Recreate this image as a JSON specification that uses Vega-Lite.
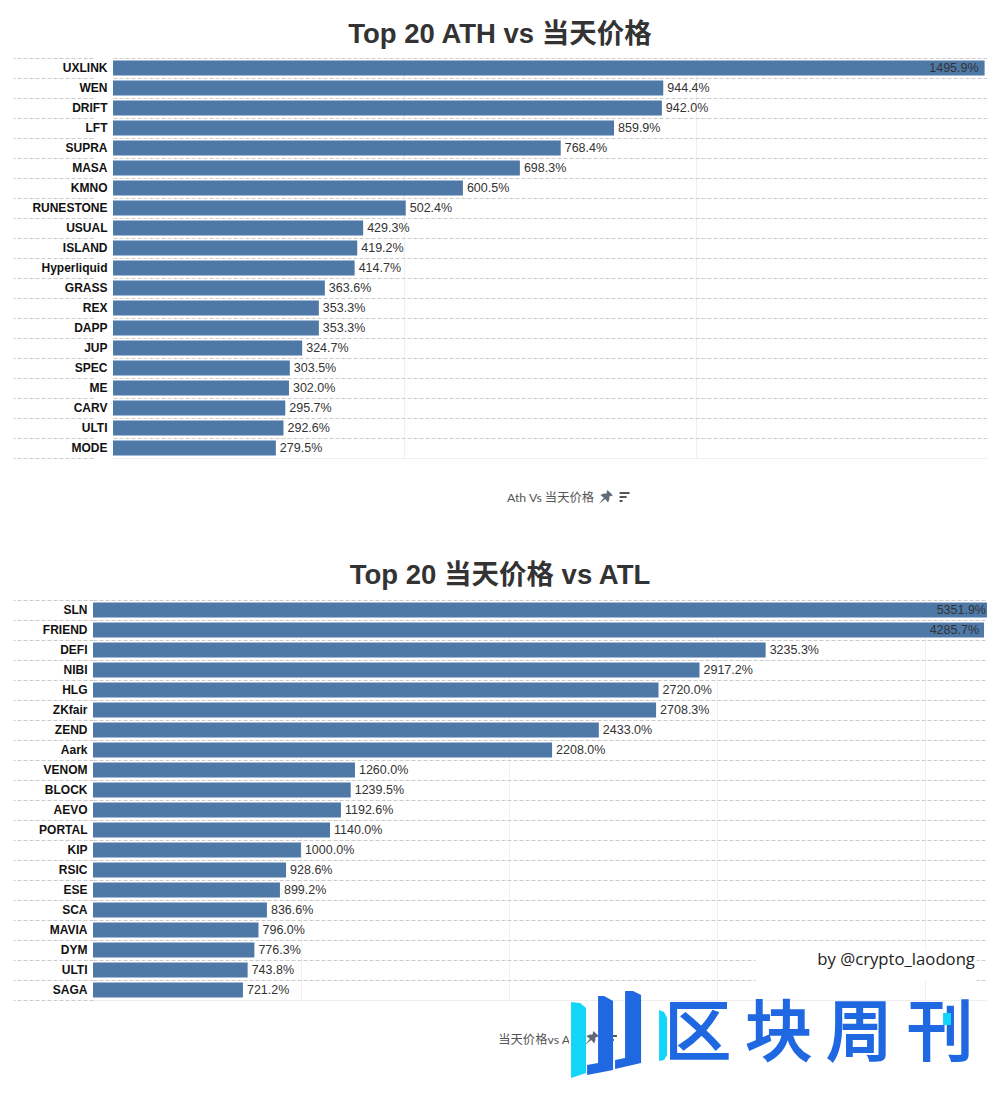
{
"$schema":"https://vega.github.io/schema/vega-lite/v6.json",
"background":"#ffffff",
"padding":{"left":12,"top":20,"right":0,"bottom":0},
"autosize":{"type":"pad"},
"config":{"view":{"stroke":null},
"axisY":{"tickBand":"extent","grid":true,"gridColor":"#cccccc","gridDash":[4,2],"tickColor":"#cccccc","tickDash":[4,2],"domain":false,"labelFontWeight":"bold","labelFontSize":12,"labelFont":"Liberation Sans","labelColor":"#111111","labelOffset":-1},
"axisX":{"labels":false,"ticks":false,"domain":true,"domainColor":"#eeeeee","grid":true,"gridColor":"#f0f0f0","titleFont":"Lato, Noto Sans CJK SC","titleFontSize":12.3,"titleFontWeight":"normal","titleColor":"#555555","titlePadding":33},
"title":{"font":"Liberation Sans, Noto Sans CJK SC","fontSize":27.5,"fontWeight":"bold","color":"#333333","anchor":"middle","frame":"group"}},
"vconcat":[
{"width":894,"height":400,
"title":{"text":"Top 20 ATH vs 当天价格","dx":-40,"offset":4},
"data":{"values":[
{"name":"UXLINK","value":1495.9,"label":"1495.9%"},{"name":"WEN","value":944.4,"label":"944.4%"},{"name":"DRIFT","value":942.0,"label":"942.0%"},{"name":"LFT","value":859.9,"label":"859.9%"},{"name":"SUPRA","value":768.4,"label":"768.4%"},{"name":"MASA","value":698.3,"label":"698.3%"},{"name":"KMNO","value":600.5,"label":"600.5%"},{"name":"RUNESTONE","value":502.4,"label":"502.4%"},{"name":"USUAL","value":429.3,"label":"429.3%"},{"name":"ISLAND","value":419.2,"label":"419.2%"},{"name":"Hyperliquid","value":414.7,"label":"414.7%"},{"name":"GRASS","value":363.6,"label":"363.6%"},{"name":"REX","value":353.3,"label":"353.3%"},{"name":"DAPP","value":353.3,"label":"353.3%"},{"name":"JUP","value":324.7,"label":"324.7%"},{"name":"SPEC","value":303.5,"label":"303.5%"},{"name":"ME","value":302.0,"label":"302.0%"},{"name":"CARV","value":295.7,"label":"295.7%"},{"name":"ULTI","value":292.6,"label":"292.6%"},{"name":"MODE","value":279.5,"label":"279.5%"}]},
"layer":[
{"mark":{"type":"bar","size":15,"color":"#4e79a7"},
"encoding":{
"x":{"field":"value","type":"quantitative","scale":{"domain":[0,1500],"nice":false,"range":[20,894]},"axis":{"title":"Ath Vs 当天价格","values":[500,1000,1500],"titleX":457,"titleAlign":"center"}},
"y":{"field":"name","type":"nominal","sort":null,"scale":{"paddingInner":0,"paddingOuter":0,"domain":["UXLINK","WEN","DRIFT","LFT","SUPRA","MASA","KMNO","RUNESTONE","USUAL","ISLAND","Hyperliquid","GRASS","REX","DAPP","JUP","SPEC","ME","CARV","ULTI","MODE"]},"axis":{"title":null,"tickSize":80,"labelPadding":-94}}}},
{"transform":[{"filter":"datum.value < 1400"}],
"mark":{"type":"text","align":"left","dx":4,"font":"Liberation Sans","fontSize":12.5,"color":"#333333"},
"encoding":{"x":{"field":"value","type":"quantitative"},"y":{"field":"name","type":"nominal"},"text":{"field":"label"}}},
{"transform":[{"filter":"datum.value >= 1400"}],
"mark":{"type":"text","align":"right","dx":-6,"font":"Liberation Sans","fontSize":12.5,"color":"#333333"},
"encoding":{"x":{"field":"value","type":"quantitative"},"y":{"field":"name","type":"nominal"},"text":{"field":"label"}}},
{"data":{"values":[{"icon":"pin"}]},
"mark":{"type":"point","filled":true,"opacity":1,"color":"#5f6b78","size":196,"shape":"M-1,1 L-0.3,0.1 L-0.8,-0.3 L-0.3,-0.5 L0.05,-0.45 L0.2,-1 L1,-0.25 L0.45,-0.05 L0.5,0.3 L0.3,0.8 L-0.1,0.3 Z"},
"encoding":{"x":{"datum":846,"type":"quantitative"},"y":{"datum":"MODE","type":"nominal"},"yOffset":{"value":59}}},
{"data":{"values":[{"icon":"sort"}]},
"mark":{"type":"point","filled":true,"opacity":1,"color":"#555555","size":144,"shape":"M-0.83,-0.83 H0.83 V-0.5 H-0.83 Z M-0.83,-0.17 H0.33 V0.17 H-0.83 Z M-0.83,0.5 H-0.33 V0.83 H-0.83 Z"},
"encoding":{"x":{"datum":878,"type":"quantitative"},"y":{"datum":"MODE","type":"nominal"},"yOffset":{"value":59}}}
]},
{"width":894,"height":400,
"title":{"text":"Top 20 当天价格 vs ATL","dx":-40,"offset":5},
"data":{"values":[
{"name":"SLN","value":5351.9,"label":"5351.9%"},{"name":"FRIEND","value":4285.7,"label":"4285.7%"},{"name":"DEFI","value":3235.3,"label":"3235.3%"},{"name":"NIBI","value":2917.2,"label":"2917.2%"},{"name":"HLG","value":2720.0,"label":"2720.0%"},{"name":"ZKfair","value":2708.3,"label":"2708.3%"},{"name":"ZEND","value":2433.0,"label":"2433.0%"},{"name":"Aark","value":2208.0,"label":"2208.0%"},{"name":"VENOM","value":1260.0,"label":"1260.0%"},{"name":"BLOCK","value":1239.5,"label":"1239.5%"},{"name":"AEVO","value":1192.6,"label":"1192.6%"},{"name":"PORTAL","value":1140.0,"label":"1140.0%"},{"name":"KIP","value":1000.0,"label":"1000.0%"},{"name":"RSIC","value":928.6,"label":"928.6%"},{"name":"ESE","value":899.2,"label":"899.2%"},{"name":"SCA","value":836.6,"label":"836.6%"},{"name":"MAVIA","value":796.0,"label":"796.0%"},{"name":"DYM","value":776.3,"label":"776.3%"},{"name":"ULTI","value":743.8,"label":"743.8%"},{"name":"SAGA","value":721.2,"label":"721.2%"}]},
"layer":[
{"mark":{"type":"bar","size":15,"color":"#4e79a7"},
"encoding":{
"x":{"field":"value","type":"quantitative","scale":{"domain":[0,4300],"nice":false,"clamp":true},"axis":{"title":"当天价格vs ATL","values":[1000,2000,3000,4000]}},
"y":{"field":"name","type":"nominal","sort":null,"scale":{"paddingInner":0,"paddingOuter":0,"domain":["SLN","FRIEND","DEFI","NIBI","HLG","ZKfair","ZEND","Aark","VENOM","BLOCK","AEVO","PORTAL","KIP","RSIC","ESE","SCA","MAVIA","DYM","ULTI","SAGA"]},"axis":{"title":null,"tickSize":80,"labelPadding":-74}}}},
{"transform":[{"filter":"datum.value < 4000"}],
"mark":{"type":"text","align":"left","dx":4,"font":"Liberation Sans","fontSize":12.5,"color":"#333333"},
"encoding":{"x":{"field":"value","type":"quantitative"},"y":{"field":"name","type":"nominal"},"text":{"field":"label"}}},
{"transform":[{"filter":"datum.value >= 4000 && datum.value < 5000"}],
"mark":{"type":"text","align":"right","dx":-5,"font":"Liberation Sans","fontSize":12.5,"color":"#333333"},
"encoding":{"x":{"field":"value","type":"quantitative"},"y":{"field":"name","type":"nominal"},"text":{"field":"label"}}},
{"transform":[{"filter":"datum.value >= 5000"}],
"mark":{"type":"text","align":"right","dx":-1,"font":"Liberation Sans","fontSize":12.5,"color":"#333333"},
"encoding":{"x":{"field":"value","type":"quantitative"},"y":{"field":"name","type":"nominal"},"text":{"field":"label"}}},
{"data":{"values":[{"icon":"patch"}]},
"mark":{"type":"point","filled":true,"opacity":1,"color":"#ffffff","size":48841,"shape":"M-1,-0.18 H1 V0.1 H-1 Z"},
"encoding":{"x":{"datum":3718,"type":"quantitative"},"y":{"datum":"ULTI","type":"nominal"}}},
{"data":{"values":[{"text":"by @crypto_laodong"}]},
"mark":{"type":"text","align":"right","dy":10,"font":"Open Sans","fontSize":16.7,"color":"#222222"},
"encoding":{"x":{"datum":4242,"type":"quantitative"},"y":{"datum":"DYM","type":"nominal"},"text":{"field":"text"}}},
{"data":{"values":[{"icon":"patch"}]},
"mark":{"type":"point","filled":true,"opacity":1,"color":"#ffffff","size":10000,"shape":"M-0.72,-0.2 H0.22 V0.3 H-0.72 Z"},
"encoding":{"x":{"datum":2463,"type":"quantitative"},"y":{"datum":"SAGA","type":"nominal"},"yOffset":{"value":54}}},
{"data":{"values":[{"icon":"sort"}]},
"mark":{"type":"point","filled":true,"opacity":1,"color":"#555555","size":144,"shape":"M-0.83,-0.83 H0.83 V-0.5 H-0.83 Z M-0.83,-0.17 H0.33 V0.17 H-0.83 Z M-0.83,0.5 H-0.33 V0.83 H-0.83 Z"},
"encoding":{"x":{"datum":2496,"type":"quantitative"},"y":{"datum":"SAGA","type":"nominal"},"yOffset":{"value":60}}},
{"data":{"values":[{"text":"区 块 周 刊"}]},
"mark":{"type":"text","align":"center","baseline":"middle","font":"Noto Sans CJK SC","fontWeight":"normal","fontSize":66,"color":"#1f68e2","stroke":"#1f68e2","strokeWidth":2.2},
"encoding":{"x":{"datum":3492,"type":"quantitative"},"y":{"datum":"SAGA","type":"nominal"},"yOffset":{"value":55},"text":{"field":"text"}}},
{"data":{"values":[{"icon":"blue"}]},
"mark":{"type":"point","filled":true,"opacity":1,"color":"#1f68e2","size":10000,"shape":"M-0.14,-0.76 L-0.02,-0.76 L0.16,-0.66 L0.16,0.72 L-0.36,0.82 L-0.36,0.62 L-0.14,0.58 Z M0.4,-0.86 L0.56,-0.86 L0.72,-0.78 L0.72,0.58 L0.2,0.7 L0.2,0.52 L0.4,0.48 Z"},
"encoding":{"x":{"datum":2463,"type":"quantitative"},"y":{"datum":"SAGA","type":"nominal"},"yOffset":{"value":54}}},
{"data":{"values":[{"icon":"cyan"}]},
"mark":{"type":"point","filled":true,"opacity":1,"color":"#12d6f7","size":10000,"shape":"M-0.68,-0.64 L-0.5,-0.62 L-0.38,-0.52 L-0.38,0.78 L-0.68,0.88 Z M1.08,-0.48 L1.18,-0.44 L1.24,-0.32 L1.24,0.42 L1.18,0.52 L1.08,0.54 Z M6.76,-0.42 H6.92 V-0.18 H6.76 Z"},
"encoding":{"x":{"datum":2463,"type":"quantitative"},"y":{"datum":"SAGA","type":"nominal"},"yOffset":{"value":54}}},
{"data":{"values":[{"icon":"pin"}]},
"mark":{"type":"point","filled":true,"opacity":1,"color":"#5f6b78","size":196,"shape":"M-1,1 L-0.3,0.1 L-0.8,-0.3 L-0.3,-0.5 L0.05,-0.45 L0.2,-1 L1,-0.25 L0.45,-0.05 L0.5,0.3 L0.3,0.8 L-0.1,0.3 Z"},
"encoding":{"x":{"datum":2400,"type":"quantitative"},"y":{"datum":"SAGA","type":"nominal"},"yOffset":{"value":58}}}
]}
],
"spacing":57
}
